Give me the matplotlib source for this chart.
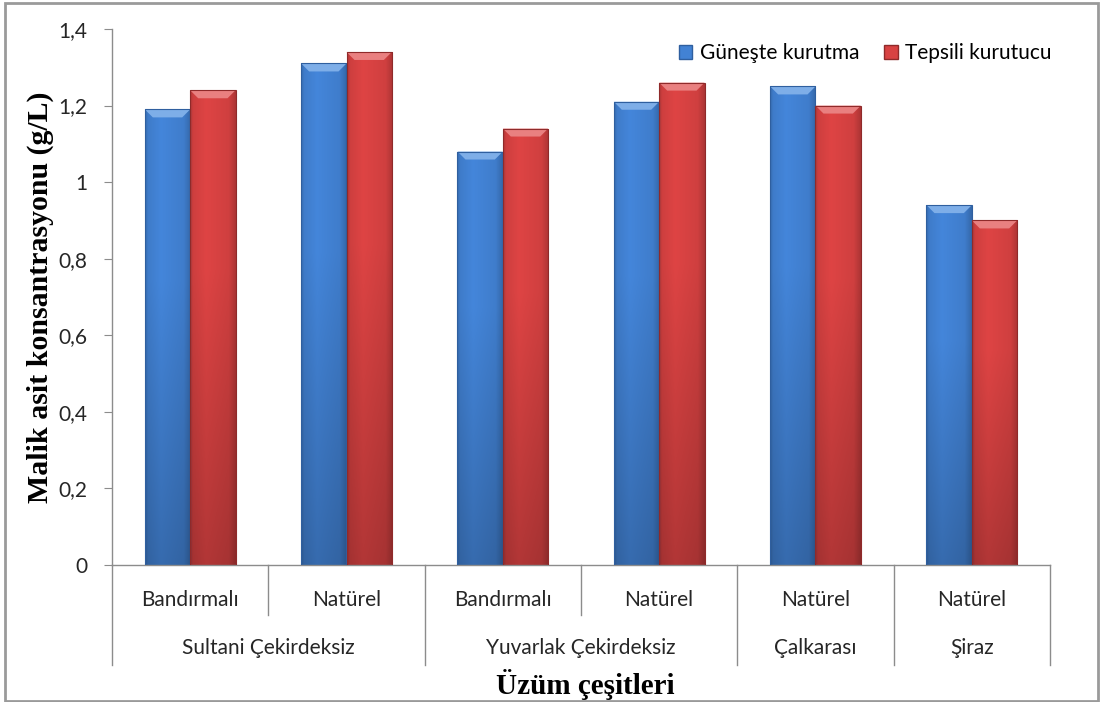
import matplotlib
matplotlib.use("Agg")
import matplotlib.pyplot as plt
import matplotlib.transforms as mtransforms
from matplotlib.patches import Polygon, Rectangle
import numpy as np

# veriler
cultivars = ["Sultani Çekirdeksiz", "Yuvarlak Çekirdeksiz", "Çalkarası", "Şiraz"]
cultivar_spans = [2, 2, 1, 1]
treatments = ["Bandırmalı", "Natürel", "Bandırmalı", "Natürel", "Natürel", "Natürel"]
gunes = [1.19, 1.31, 1.08, 1.21, 1.25, 0.94]
tepsili = [1.24, 1.34, 1.14, 1.26, 1.20, 0.90]
series_names = ["Güneşte kurutma", "Tepsili kurutucu"]
yticks = [0, 0.2, 0.4, 0.6, 0.8, 1.0, 1.2, 1.4]

base_colors = [np.array([66, 130, 212]) / 255, np.array([216, 66, 66]) / 255]
light_colors = ["#7eaee8", "#e98080"]
edge_colors = ["#2f5f9f", "#8f2a2a"]

label_font = ["Lato", "DejaVu Sans"]
title_font = ["Liberation Serif", "DejaVu Serif"]
axis_gray = "#8c8c8c"
text_col = "#262626"
fs = 15

W, H = 1103, 702
fig = plt.figure(figsize=(W / 100, H / 100), dpi=100)
ax = fig.add_axes([112 / W, 137 / H, 938 / W, 536 / H])

n = len(treatments)
x = np.arange(n)
bw = 0.29
ax.set_xlim(-0.5, n - 0.5)
ax.set_ylim(0, 1.4)


def shade_bar(rect, base, light, edge):
    bx, w, h = rect.get_x(), rect.get_width(), rect.get_height()
    u = np.linspace(0, 1, 60)
    hor = np.interp(u, [0, 0.06, 0.35, 0.85, 1], [0.82, 0.95, 1.03, 0.96, 0.80])
    v = np.linspace(0, 1, 200)
    ver = 0.80 + 0.20 * np.clip(v * 1.6, 0, 1)
    img = np.clip(ver[:, None, None] * hor[None, :, None] * base[None, None, :], 0, 1)
    im = ax.imshow(img, extent=[bx, bx + w, 0, h], origin="lower", aspect="auto",
                   interpolation="bilinear", zorder=2)
    im.set_clip_path(rect)
    # üst eğim
    p0 = ax.transData.inverted().transform((0, 0))
    p1 = ax.transData.inverted().transform((8, 8))
    dx, dy = p1[0] - p0[0], p1[1] - p0[1]
    bevel = Polygon([(bx, h), (bx + w, h), (bx + w - dx, h - dy), (bx + dx, h - dy)],
                    closed=True, facecolor=light, edgecolor="none", zorder=3)
    ax.add_patch(bevel)
    rect.set_facecolor("none")
    rect.set_edgecolor(edge)
    rect.set_linewidth(0.8)
    rect.set_zorder(4)


for i, vals in enumerate([gunes, tepsili]):
    bars = ax.bar(x + (i - 0.5) * bw, vals, bw, zorder=4)
    for r in bars:
        shade_bar(r, base_colors[i], light_colors[i], edge_colors[i])

ax.set_xlim(-0.5, n - 0.5)
ax.set_ylim(0, 1.4)

for s in ["top", "right"]:
    ax.spines[s].set_visible(False)
for s in ["left", "bottom"]:
    ax.spines[s].set_color(axis_gray)
    ax.spines[s].set_linewidth(1)

ax.set_yticks(yticks)
ax.set_yticklabels([f"{t:g}".replace(".", ",") for t in yticks], fontsize=fs,
                   family=label_font, color=text_col)
ax.tick_params(axis="y", direction="out", length=6, color=axis_gray, pad=12)
ax.set_xticks([])

# çok seviyeli kategori ekseni
trans = mtransforms.blended_transform_factory(ax.transData, ax.transAxes)
short_y = -50 / 536
long_y = -100 / 536
bounds = np.cumsum([0] + cultivar_spans) - 0.5
for k in range(n + 1):
    b = k - 0.5
    yb = long_y if b in bounds else short_y
    ax.plot([b, b], [0, yb], transform=trans, color=axis_gray, lw=1, clip_on=False)
for k, t in enumerate(treatments):
    ax.text(k, -35 / 536, t, transform=trans, ha="center", va="center",
            fontsize=fs, family=label_font, color=text_col)
for k, c in enumerate(cultivars):
    mid = (bounds[k] + bounds[k + 1]) / 2
    ax.text(mid, -83 / 536, c, transform=trans, ha="center", va="center",
            fontsize=fs, family=label_font, color=text_col)

fig.text(585 / W, 1 - 684 / H, "Üzüm çeşitleri", ha="center", va="center",
         fontsize=21, fontweight="bold", family=title_font)
fig.text(40 / W, 1 - 297 / H, "Malik asit konsantrasyonu (g/L)", ha="center",
         va="center", rotation=90, fontsize=21.5, fontweight="bold", family=title_font)

handles = [Rectangle((0, 0), 1, 1, facecolor=base_colors[i], edgecolor=edge_colors[i])
           for i in range(2)]
fig.legend(handles, series_names, loc="center right",
           bbox_to_anchor=(1062 / W, 1 - 53 / H), ncol=2, frameon=False,
           prop={"family": label_font, "size": fs}, handlelength=0.65,
           handleheight=0.65, handletextpad=0.35, columnspacing=1.2, borderpad=0)

fig.patches.append(Rectangle((5 / W, 1 / H), 1093 / W, 698 / H, transform=fig.transFigure,
                             fill=False, edgecolor="#9a9a9a", lw=2))

fig.savefig("out.png", dpi=100)
